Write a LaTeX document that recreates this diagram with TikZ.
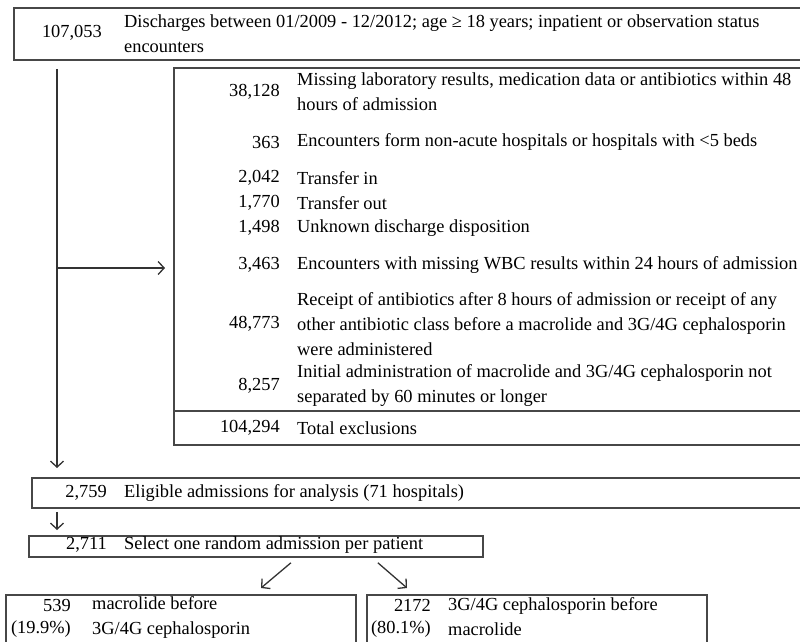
\documentclass[tikz,border=0pt]{standalone}
\usepackage{fontspec}
\setmainfont{Liberation Serif}
\usetikzlibrary{arrows.meta}

\tikzset{
  box/.style={draw=black!72, line width=1.8pt, anchor=north west, inner sep=0pt},
  num/.style={anchor=east, inner sep=0pt},
  txt/.style={anchor=west, align=left, inner sep=0pt},
  flow/.style={->, >={Straight Barb[length=6pt, width=13pt]}, line width=1.3pt, draw=black!80},
}

\begin{document}
\begin{tikzpicture}[x=1pt, y=-1pt, font=\fontsize{18.4}{25}\selectfont]
		\path[use as bounding box, clip] (0,0) rectangle (800,642);

		% boxes
		\node[box, minimum width=800pt, minimum height=52pt]  (Start)     at (13,7)    {};
		\node[box, minimum width=700pt, minimum height=343pt] (Exclusion) at (173,67)  {};
		\node[box, minimum width=700pt, minimum height=34pt]  (Total)     at (173,410) {};
		\node[box, minimum width=800pt, minimum height=30pt]  (Eligible)  at (31,477)  {};
		\node[box, minimum width=454pt, minimum height=21pt]  (Select)    at (28,535)  {};
		\node[box, minimum width=350pt, minimum height=60pt]  (Macrolide) at (5,594)   {};
		\node[box, minimum width=340pt, minimum height=60pt]  (Cephalo)   at (366,594) {};

		% counts and reasons
		\node[num] (nStart) at (102,33) {107,053};
		\node[txt] (tStart) at (124,34) {Discharges between 01/2009 - 12/2012; age ≥ 18 years; inpatient or observation status\\encounters};

		\node[num] (nMissing) at (280,92) {38,128};
		\node[txt] (tMissing) at (297,92) {Missing laboratory results, medication data or antibiotics within 48\\hours of admission};
		\node[num] (nAcute) at (280,142) {363};
		\node[txt] (tAcute) at (297,142) {Encounters form non-acute hospitals or hospitals with <5 beds};
		\node[num] (nTransIn) at (280,178) {2,042};
		\node[txt] (tTransIn) at (297,178) {Transfer in};
		\node[num] (nTransOut) at (280,203) {1,770};
		\node[txt] (tTransOut) at (297,203) {Transfer out};
		\node[num] (nUnknown) at (280,228) {1,498};
		\node[txt] (tUnknown) at (297,228) {Unknown discharge disposition};
		\node[num] (nWBC) at (280,265) {3,463};
		\node[txt] (tWBC) at (297,265) {Encounters with missing WBC results within 24 hours of admission};
		\node[num] (nLate) at (280,324) {48,773};
		\node[txt] (tLate) at (297,324) {Receipt of antibiotics after 8 hours of admission or receipt of any\\other antibiotic class before a macrolide and 3G/4G cephalosporin\\were administered};
		\node[num] (nClose) at (280,386) {8,257};
		\node[txt] (tClose) at (297,386) {Initial administration of macrolide and 3G/4G cephalosporin not\\separated by 60 minutes or longer};
		\node[num] (nTotal) at (280,428) {104,294};
		\node[txt] (tTotal) at (297,428) {Total exclusions};

		\node[num] (nEligible) at (107,493) {2,759};
		\node[txt] (tEligible) at (124,493) {Eligible admissions for analysis (71 hospitals)};
		\node[num] (nSelect) at (107,545) {2,711};
		\node[txt] (tSelect) at (124,545) {Select one random admission per patient};

		\node[num] (nMacrolide) at (71,605) {539};
		\node[num] (pMacrolide) at (71,629) {(19.9\%)};
		\node[txt] (tMacrolide) at (92,617) {macrolide before\\3G/4G cephalosporin};
		\node[num] (nCephalo) at (431,605) {2172};
		\node[num] (pCephalo) at (431,629) {(80.1\%)};
		\node[txt] (tCephalo) at (448,617) {3G/4G cephalosporin before\\macrolide};

		% arrows
		\coordinate (Trunk) at (57,268);
		\draw[flow, shorten <=8pt, shorten >=9pt] (Start.south -| Trunk) -- (Eligible.north -| Trunk);
		\draw[flow, shorten >=8pt] (Trunk) -- (Trunk -| Exclusion.west);
		\draw[flow, shorten <=3pt, shorten >=5pt] (Eligible.south -| Trunk) -- (Select.north -| Trunk);
		\draw[flow] ([shift={(35,5)}]Select.south) -- ([shift={(256,-6)}]Macrolide.north west);
		\draw[flow] ([shift={(122,5)}]Select.south) -- ([shift={(41,-6)}]Cephalo.north west);
	\end{tikzpicture}
\end{document}
